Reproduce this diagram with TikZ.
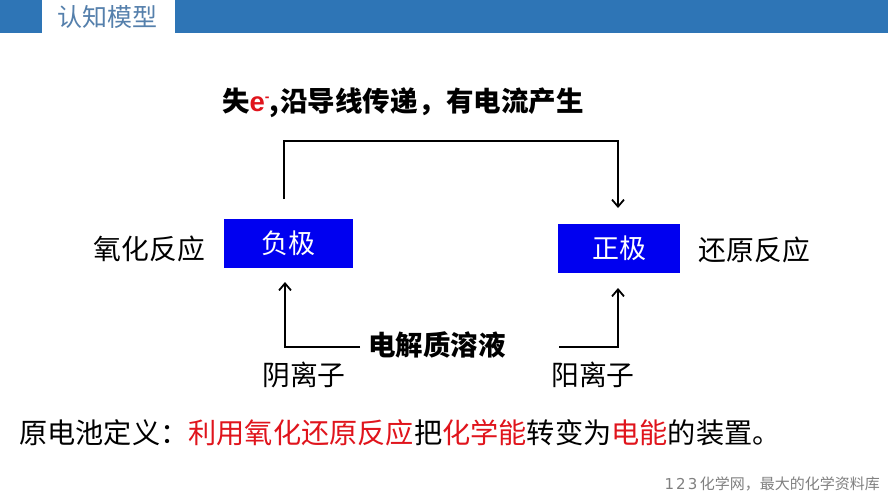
\documentclass[tikz,border=0pt]{standalone}
\usepackage{fontspec}
\setmainfont{Noto Sans CJK SC}
\newfontfamily\latinb{Liberation Sans}
\newfontfamily\latinf{DejaVu Sans}
\usetikzlibrary{arrows.meta}
\definecolor{barblue}{HTML}{2E75B6}
\definecolor{titleblue}{HTML}{5580AC}
\definecolor{boxblue}{HTML}{0000F0}
\definecolor{keyred}{HTML}{E0141C}
\newcommand{\fs}[1]{\fontsize{#1}{#1}\selectfont}
\tikzset{
  x=1pt,y=-1pt,
  lbl/.style={inner sep=0pt,anchor=center,text=black,font=\fs{27.8}},
  strong/.style={inner sep=0pt,anchor=center,text=black,font=\fs{27.5}\bfseries},
  polebox/.style={fill=boxblue,draw=none,inner sep=0pt,text=white,font=\fs{27}},
  wire/.style={draw=black,line width=1.8pt,line join=miter},
  wirearrow/.style={wire,-{Straight Barb[length=7pt,width=12pt,line width=1.8pt]}}
}
\begin{document}
\begin{tikzpicture}
\useasboundingbox (0,0) rectangle (888,499);
\fill[white] (0,0) rectangle (888,499);
\fill[barblue] (0,0) rectangle (888,33);
\fill[white] (42,0) rectangle (175,33);
\node[inner sep=0pt,text=titleblue,font=\fs{25}] (title) at (107,17) {认知模型};

\node[strong,anchor=west] (top) at (222,103) {失{\latinb\color{keyred}e\raisebox{10pt}{\fs{14}-}},\kern1pt 沿导线传递\kern1pt，有电流产生};

\node[polebox,minimum width=129pt,minimum height=49pt] (neg) at (288.5,243.5) {负极};
\node[polebox,minimum width=122pt,minimum height=49pt] (pos) at (619,248.5) {正极};
\node[lbl] (ox) at (149.5,249) {氧化反应};
\node[lbl] (red) at (754.5,250) {还原反应};

\coordinate (ewire) at (284,199);
\coordinate (ewireend) at (618,208);
\draw[wirearrow] (ewire) -- (284,141) -- (618,141) -- (ewireend);

\node[strong] (sol) at (437,345) {电解质溶液};
\node[lbl] (an) at (304,375) {阴离子};
\node[lbl] (cat) at (593,375) {阳离子};

\coordinate (lstart) at (360,347);
\coordinate (lend) at (285,282);
\coordinate (rstart) at (559,347);
\coordinate (rend) at (618,288);
\draw[wirearrow] (lstart) -- (285,347) -- (lend);
\draw[wirearrow] (rstart) -- (618,347) -- (rend);

\node[inner sep=0pt,anchor=west,text=black,font=\fs{28.2}] (def) at (19,433) {原电池定义：{\color{keyred}利用氧化还原反应}把{\color{keyred}化学能}转变为{\color{keyred}电能}的装置。};

\node[inner sep=0pt,anchor=east,text=black!50,font=\fs{15}] (foot) at (880,484) {{\latinf\fs{15}1\kern2pt 2\kern2pt 3\kern2.5pt}化学网，最大的化学资料库};
\end{tikzpicture}
\end{document}
